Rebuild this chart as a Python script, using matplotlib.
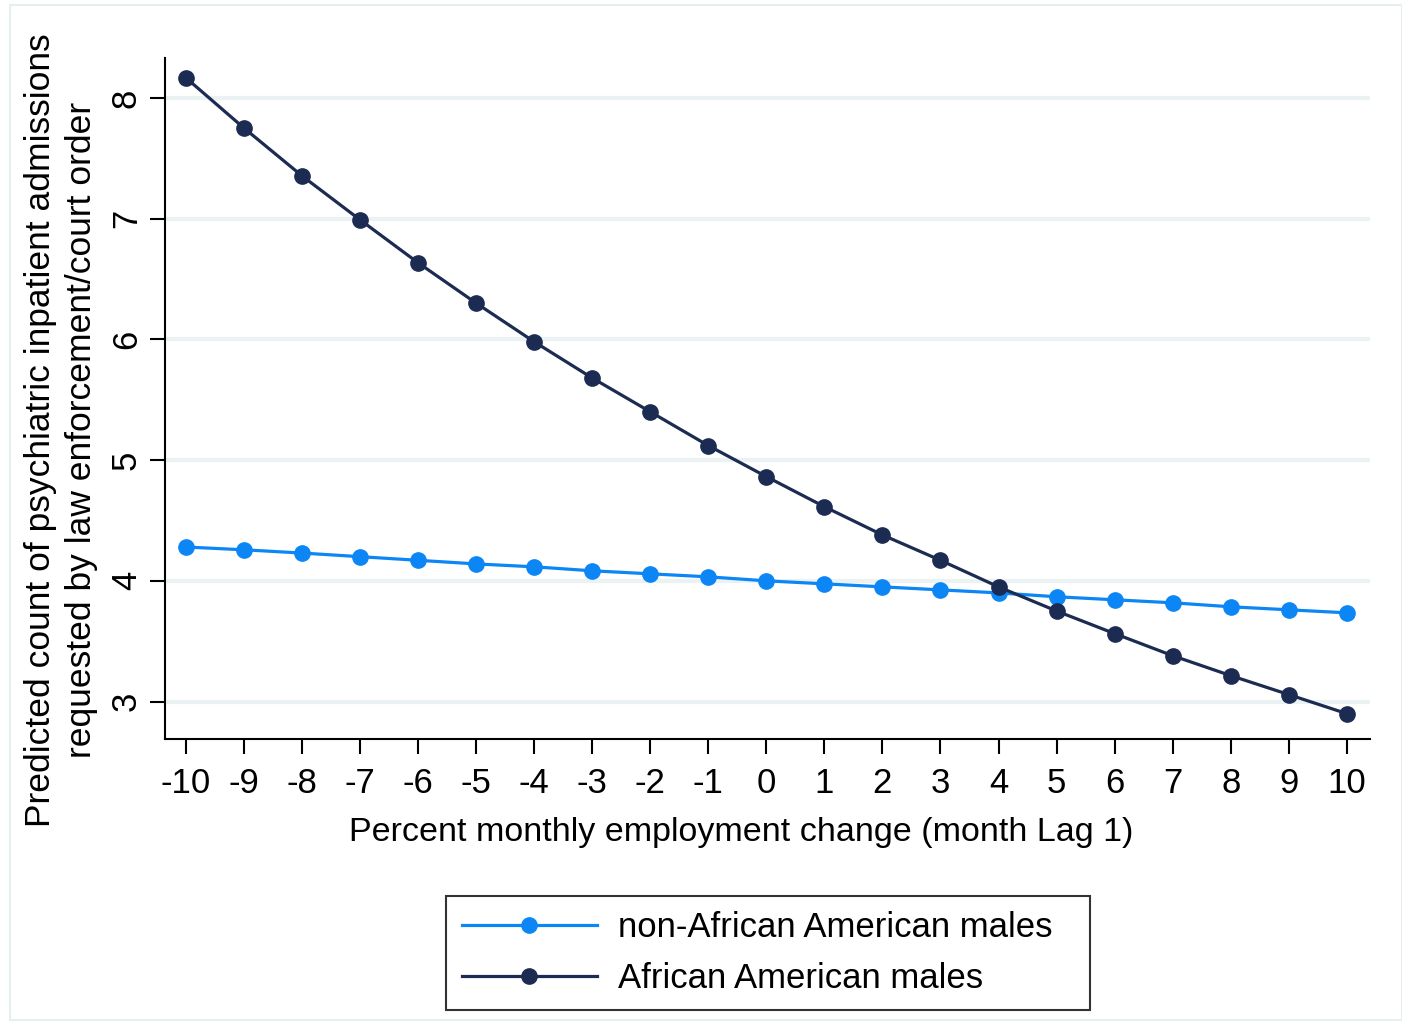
import matplotlib
matplotlib.use("Agg")
import matplotlib.pyplot as plt
from matplotlib.patches import Rectangle

plt.rcParams['font.family'] = ['Liberation Sans', 'DejaVu Sans']

x_vals = list(range(-10, 11))
non_aa = [4.28, 4.257, 4.23, 4.20, 4.17, 4.14, 4.116, 4.083, 4.058, 4.033, 4.0,
          3.975, 3.95, 3.925, 3.90, 3.868, 3.843, 3.818, 3.785, 3.76, 3.735]
aa = [8.166, 7.75, 7.354, 6.99, 6.634, 6.30, 5.98, 5.68, 5.40, 5.12, 4.863,
      4.614, 4.38, 4.17, 3.95, 3.75, 3.563, 3.38, 3.215, 3.058, 2.90]
y_ticks = [3, 4, 5, 6, 7, 8]
series_labels = ["non-African American males", "African American males"]

light = '#0d86f5'
dark = '#1c2b52'

W, H = 1402, 1026
fig = plt.figure(figsize=(W / 100, H / 100), dpi=100)
fig.patch.set_facecolor('white')
# outer faint frame
fig.add_artist(Rectangle((10 / W, 1 - 1020 / H), (W - 10) / W, (1015) / H,
                         transform=fig.transFigure, fill=False,
                         edgecolor='#e6eef2', linewidth=1.5))

left, right, top, bottom = 165, 1370, 58, 739
ax = fig.add_axes([left / W, 1 - bottom / H, (right - left) / W, (bottom - top) / H])

ax.plot(x_vals, non_aa, color=light, lw=2.3, marker='o', ms=11, label=series_labels[0], zorder=3)
ax.plot(x_vals, aa, color=dark, lw=2.3, marker='o', ms=11, label=series_labels[1], zorder=4)

ax.set_xlim(-10.36, 10.4)
ax.set_ylim(2.69, 8.33)
ax.set_xticks(x_vals)
ax.set_xticklabels([str(v) for v in x_vals])
ax.set_yticks(y_ticks)
ax.set_yticklabels([str(v) for v in y_ticks], rotation=90, va='center')
for v in y_ticks:
    ax.axhline(v, color='#eaf2f3', lw=3, zorder=1)

for s in ['top', 'right']:
    ax.spines[s].set_visible(False)
for s in ['left', 'bottom']:
    ax.spines[s].set_linewidth(1.5)
ax.tick_params(axis='both', length=11, width=1.5, labelsize=25, direction='out')
ax.tick_params(axis='x', pad=9)
ax.tick_params(axis='y', pad=5)

ax.set_xlabel("Percent monthly employment change (month Lag 1)", fontsize=24.5)
ax.xaxis.set_label_coords((741 - left) / (right - left), 1 - (833 - top) / (bottom - top))
ax.xaxis.label.set_va('center')
ax.set_ylabel("Predicted count of psychiatric inpatient admissions\nrequested by law enforcement/court order",
              fontsize=25.5, linespacing=1.27)
ax.yaxis.set_label_coords((61 - left) / (right - left), 1 - (430 - top) / (bottom - top))
ax.yaxis.label.set_va('center')

leg = fig.legend(loc='center', bbox_to_anchor=(446 / W, 1 - 1009 / H, 644 / W, 112 / H),
                 mode='expand', borderaxespad=0,
                 fontsize=25, frameon=True, fancybox=False, edgecolor='black',
                 handlelength=3.9, borderpad=0.45, labelspacing=0.5, handletextpad=0.6)
leg.get_frame().set_linewidth(1.5)

fig.savefig('out.png', dpi=100, facecolor='white')
